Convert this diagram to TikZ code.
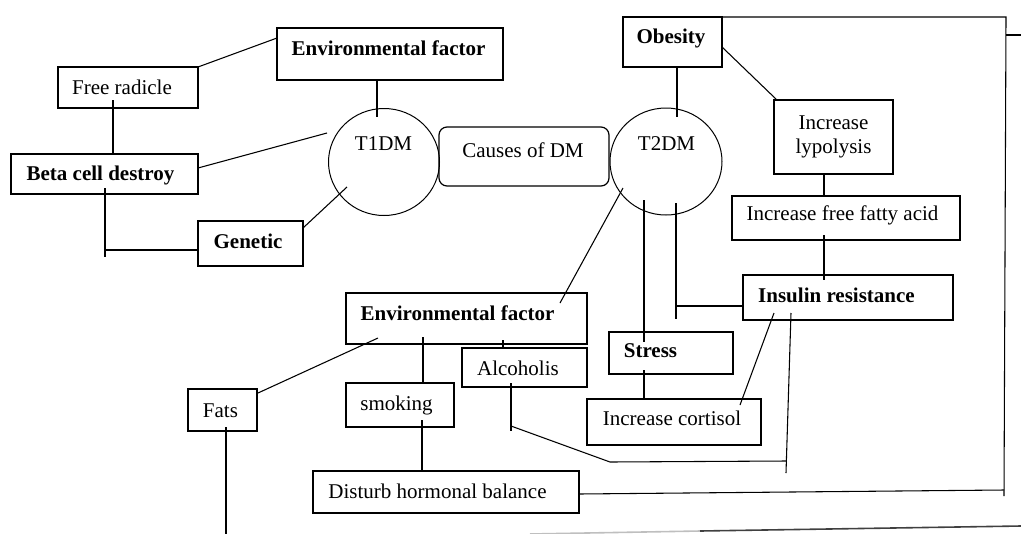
\documentclass[tikz,border=0pt]{standalone}
\usepackage{fontspec}
\setmainfont{Liberation Serif}
\usetikzlibrary{shapes.geometric,calc}
\newcommand\mkbox[6][]{\node[box,#1,minimum width={(#5-#3)*0.75pt},minimum height={(#6-#4)*0.75pt}] (#2) at ({(#3+#5)/2},{(#4+#6)/2}) {};}
\tikzset{
  box/.style={draw, line width=0.9pt, inner sep=0pt, outer sep=0pt},
  circ/.style={draw, ellipse, line width=0.75pt, inner sep=0pt, outer sep=0pt},
  txt/.style={inner sep=0pt, font=\fontsize{15.75}{18}\selectfont, anchor=base},
  bt/.style={inner sep=0pt, font=\fontsize{15.75}{18}\selectfont\bfseries, anchor=base},
  ln/.style={line width=0.8pt},
}
\begin{document}
\begin{tikzpicture}[x=0.75pt,y=-0.75pt]
\useasboundingbox (0,0) rectangle (1021,533);
% boxes
\mkbox{env1}{277}{28}{503}{80}
\mkbox{fr}{58}{67}{198}{108}
\mkbox{beta}{11}{154}{198}{194}
\mkbox{gen}{198}{221}{303}{266}
\mkbox[rounded corners=6pt]{cz}{439}{127}{609}{186}
\mkbox{ob}{623}{17}{722}{67}
\mkbox{lyp}{774}{100}{893}{174}
\mkbox{ffa}{732}{196}{960}{240}
\mkbox{ir}{743}{275}{953}{320}
\mkbox{stress}{609}{332}{733}{374}
\mkbox{cort}{587}{399}{761}{445}
\mkbox{env2}{346}{293}{587}{344}
\mkbox{alc}{462}{348}{587}{387}
\mkbox{smk}{346}{383}{454}{427}
\mkbox{fats}{188}{389}{257}{431}
\mkbox{dis}{313}{471}{579}{513}
\node[circ, minimum width=111*0.75pt, minimum height=107*0.75pt] (t1) at (384,162) {};
\node[circ, minimum width=112*0.75pt, minimum height=107*0.75pt] (t2) at (666,161.5) {};
% texts
\node[bt] (env1t) at (388.5,55) {Environmental factor};
\node[txt] (frt) at (122,94) {Free radicle};
\node[bt] (betat) at (100.5,180) {Beta cell destroy};
\node[bt] (gent) at (248,248) {Genetic};
\node[txt] (t1t) at (383.5,150) {T1DM};
\node[txt] (czt) at (523,157) {Causes of DM};
\node[txt] (t2t) at (666.5,150) {T2DM};
\node[bt] (obt) at (671,43) {Obesity};
\node[inner sep=0pt, font=\fontsize{15.75}{18}\selectfont, align=center] (lypt) at (833.5,137) {Increase\\lypolysis};
\node[txt] (ffat) at (842.5,220) {Increase free fatty acid};
\node[bt] (irt) at (836.5,302) {Insulin resistance};
\node[bt] (stresst) at (650.5,357) {Stress};
\node[txt] (cortt) at (672,425) {Increase cortisol};
\node[bt] (env2t) at (457.5,320) {Environmental factor};
\node[txt] (alct) at (518,375) {Alcoholis};
\node[txt] (smkt) at (396.5,410) {smoking};
\node[txt] (fatst) at (220.5,417) {Fats};
\node[txt] (dist) at (437.5,498) {Disturb hormonal balance};
% frame coordinates
\coordinate (tr) at (1006,17);
\coordinate (br) at (1004,490);
\coordinate (bre) at (1004,496);
% connectors left
\draw[ln] ([shift={(0,10)}]env1.north west) -- (fr.north east);
\draw[ln] ([shift={(-13,0)}]env1.south) -- ([shift={(-7,-45)}]t1.center);
\draw[ln] ([shift={(55,-8)}]fr.south west) -- ([shift={(102,0)}]beta.north west);
\draw[ln] ([shift={(0,-6)}]beta.east) -- ([shift={(-57,-29)}]t1.center);
\draw[ln] ([shift={(0,7)}]gen.north east) -- ([shift={(-37,25)}]t1.center);
\draw[ln] ([shift={(94,-6)}]beta.south west) -- ++(0,69);
\draw[ln] ([shift={(0,6.5)}]gen.west) -- ++(-93,0);
% connectors right
\draw[ln] ([shift={(4.5,0)}]ob.south) -- ([shift={(11,-44.5)}]t2.center);
\draw[ln] ([shift={(0,5)}]ob.east) -- ([shift={(3,0)}]lyp.north west);
\draw[ln] (ob.north east) -- (tr) -- (bre);
\draw[ln] ([shift={(0,18)}]tr) -- ++(15,0);
\draw[ln] ([shift={(-9.5,0)}]lyp.south) -- ([shift={(-22,0)}]ffa.north);
\draw[ln] ([shift={(-22,-5)}]ffa.south) -- ([shift={(-24,5)}]ir.north);
\draw[ln] ([shift={(-22,38.5)}]t2.center) -- ([shift={(-27,-11)}]stress.center);
\draw[ln] ([shift={(10,41.5)}]t2.center) -- ++(0,116);
\draw[ln] ([shift={(0,8.5)}]ir.west) -- ++(-67,0);
\draw[ln] ([shift={(-27,17)}]stress.center) -- ([shift={(-30,0)}]cort.north);
\draw[ln] ([shift={(-21,6)}]cort.north east) -- ([shift={(31,-7)}]ir.south west);
\draw[ln] ([shift={(48,-7)}]ir.south west) -- ++(-5,160);
\draw[ln] ([shift={(49,-4)}]alc.south west) -- ++(0,48);
\draw[ln] ([shift={(49,39)}]alc.south west) -- ++(99,36) -- ++(176,-1);
\draw[ln] ([shift={(36.5,-4)}]env2.south) -- ([shift={(-21.5,0)}]alc.north);
\draw[ln] ([shift={(-43,26.5)}]t2.center) -- ([shift={(-27,10)}]env2.north east);
\draw[ln] ([shift={(-43.5,-7)}]env2.south) -- ([shift={(23,0)}]smk.north);
\draw[ln] ([shift={(22,-7)}]smk.south) -- ([shift={(-24,0)}]dis.north);
\draw[ln] ([shift={(32,-6)}]env2.south west) -- ([shift={(1,4)}]fats.north east);
\draw[ln] ([shift={(3.5,-4)}]fats.south) -- ++(0,110);
\draw[ln] ([shift={(0,2)}]dis.east) -- (br);
% page edge shadow
\coordinate (s1) at (530,534);
\coordinate (s2) at (700,531);
\coordinate (s3) at (1021,526);
\draw[line width=1.2pt, black!25] (s1) -- (s2);
\draw[line width=1.2pt, black!75] (s2) -- (s3);
\end{tikzpicture}
\end{document}
